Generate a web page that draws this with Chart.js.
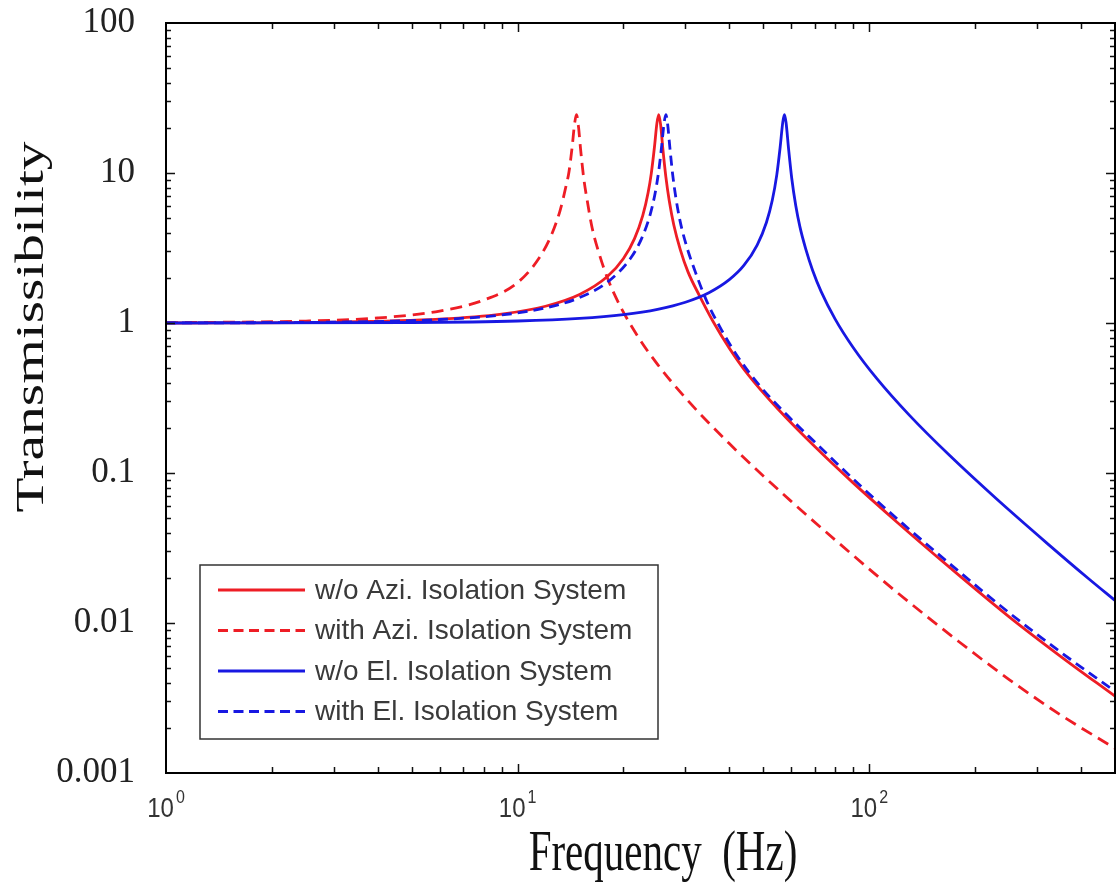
<!DOCTYPE html>
<html>
<head>
<meta charset="utf-8">
<script src="https://cdn.jsdelivr.net/npm/chart.js@4.4.1/dist/chart.umd.min.js"></script>
<style>
  html, body { margin: 0; padding: 0; background: #fff; }
  canvas { display: block; }
</style>
</head>
<body>
<canvas id="chart" width="1117" height="888"></canvas>
<script>
// Data

var seriesNames = [
    "w/o Azi. Isolation System",
    "with Azi. Isolation System",
    "w/o El. Isolation System",
    "with El. Isolation System"
];

var freqAziWithout = [1, 3, 6, 9, 12, 15, 18, 20, 21.5, 22.7, 23.5, 24, 24.5, 24.9, 25.2, 25.5, 25.9, 26.4, 27, 27.8, 29, 30.5, 33, 36, 40, 45, 55, 70, 90, 120, 170, 250, 350, 500];
var valAziWithout = [1.0, 1.014, 1.06, 1.146, 1.293, 1.549, 2.04, 2.69, 3.65, 5.21, 7.38, 9.95, 14.9, 21.5, 24.5, 21.1, 14.3, 9.43, 6.5, 4.52, 3.1, 2.2, 1.5, 1.02, 0.68, 0.46, 0.267, 0.15, 0.0859, 0.047, 0.0233, 0.011, 0.006, 0.00325];

var freqAziWith = [1, 2.5, 4, 6, 8, 10, 11.5, 12.5, 13.2, 13.7, 14.0, 14.3, 14.5, 14.7, 14.9, 15.1, 15.4, 15.8, 16.3, 17, 18, 19.5, 22, 25, 30, 40, 60, 80, 120, 180, 250, 350, 500];
var valAziWith = [1.005, 1.03, 1.08, 1.2, 1.42, 1.86, 2.7, 3.9, 5.6, 8.0, 10.2, 15.1, 20.7, 24.5, 20.3, 14.5, 9.43, 6.4, 4.28, 2.97, 2.0, 1.32, 0.81, 0.53, 0.317, 0.157, 0.0647, 0.0358, 0.016, 0.0075, 0.0042, 0.00244, 0.00146];

var freqElWithout = [1, 5, 10, 15, 20, 25, 30, 35, 40, 44, 48, 51, 53, 54.6, 55.8, 56.8, 57.4, 58, 59, 60.2, 61.8, 63.5, 66, 69, 73, 80, 90, 105, 130, 170, 230, 320, 420, 500];
var valElWithout = [1.0, 1.008, 1.031, 1.073, 1.138, 1.234, 1.376, 1.592, 1.945, 2.42, 3.31, 4.68, 6.58, 9.76, 14.85, 22.0, 24.5, 21.7, 14.3, 9.23, 6.07, 4.39, 3.11, 2.25, 1.62, 1.062, 0.687, 0.427, 0.243, 0.1296, 0.0673, 0.0341, 0.0198, 0.01414];

var freqElWith = [1, 3, 6, 9, 12, 15, 18, 21, 22.5, 23.8, 24.6, 25.2, 25.7, 26.1, 26.4, 26.7, 27.1, 27.6, 28.2, 29, 30.3, 32, 34.5, 38, 42, 48, 58, 72, 95, 125, 175, 250, 350, 500];
var valElWith = [1.001, 1.013, 1.055, 1.131, 1.26, 1.477, 1.87, 2.72, 3.64, 5.24, 7.31, 10.35, 15.35, 21.6, 24.5, 21.3, 14.8, 9.8, 6.79, 4.74, 3.2, 2.2, 1.4, 0.9, 0.61, 0.40, 0.247, 0.151, 0.081, 0.0456, 0.0233, 0.0117, 0.0064, 0.0035];

var xTickValues = [1, 10, 100];
var xTickExps = ["0", "1", "2"];
var yTickLabels = ["0.001", "0.01", "0.1", "1", "10", "100"];

var xTitle = "Frequency  (Hz)";
var yTitle = "Transmissibility";

var RED = '#ee1d25';
var BLUE = '#1818e2';

function toPoints(xs, ys) {
    return xs.map(function (x, i) { return { x: x, y: ys[i] }; });
}

// text with a stretch, the reference picture is squashed a bit
function stretchedText(ctx, text, x, y, sx, sy, rot) {
    ctx.save();
    ctx.translate(x, y);
    if (rot) ctx.rotate(rot);
    ctx.scale(sx, sy);
    ctx.fillText(text, 0, 0);
    ctx.restore();
}

var decorPlugin = {
    id: 'decor',
    afterDraw: function (chart) {
        var ctx = chart.ctx;
        var a = chart.chartArea;
        var xs = chart.scales.x;
        var ys = chart.scales.y;
        ctx.save();

        // inward ticks, all four sides
        ctx.strokeStyle = '#111';
        ctx.lineWidth = 1.5;
        ctx.beginPath();
        for (var e = 0; e <= 2; e++) {
            for (var k = 1; k <= 9; k++) {
                var v = k * Math.pow(10, e);
                if (v <= 1 || v >= 500) continue;
                var px = Math.round(xs.getPixelForValue(v)) + 0.5;
                var len = (k === 1) ? 9 : 6;
                ctx.moveTo(px, a.bottom); ctx.lineTo(px, a.bottom - len);
                ctx.moveTo(px, a.top); ctx.lineTo(px, a.top + len);
            }
        }
        for (var e2 = -3; e2 <= 1; e2++) {
            for (var k2 = 1; k2 <= 9; k2++) {
                var v2 = k2 * Math.pow(10, e2);
                if (v2 <= 0.001) continue;
                var py = Math.round(ys.getPixelForValue(v2)) + 0.5;
                var len2 = (k2 === 1) ? 9 : 5;
                ctx.moveTo(a.left, py); ctx.lineTo(a.left + len2, py);
                ctx.moveTo(a.right, py); ctx.lineTo(a.right - len2, py);
            }
        }
        ctx.stroke();

        // frame
        ctx.lineWidth = 2;
        ctx.strokeStyle = '#000';
        ctx.strokeRect(a.left, a.top, a.right - a.left, a.bottom - a.top);

        // x tick labels 10^n
        ctx.fillStyle = '#333';
        ctx.textBaseline = 'alphabetic';
        for (var i = 0; i < xTickValues.length; i++) {
            var cx = xs.getPixelForValue(xTickValues[i]);
            ctx.font = '24px "Liberation Sans", Arial, sans-serif';
            var wBase = ctx.measureText('10').width;
            ctx.font = '16px "Liberation Sans", Arial, sans-serif';
            var wExp = ctx.measureText(xTickExps[i]).width;
            var left = cx - (wBase + 2 + wExp) / 2;
            ctx.textAlign = 'left';
            ctx.font = '24px "Liberation Sans", Arial, sans-serif';
            stretchedText(ctx, '10', left, 817, 1, 1.17);
            ctx.font = '16px "Liberation Sans", Arial, sans-serif';
            stretchedText(ctx, xTickExps[i], left + wBase + 2, 803, 1, 1.2);
        }

        // axis titles
        ctx.fillStyle = '#111';
        ctx.font = '41px "Liberation Serif", "Times New Roman", serif';
        ctx.textAlign = 'center';
        ctx.textBaseline = 'middle';
        stretchedText(ctx, xTitle, 663, 855, 1, 1.4);
        stretchedText(ctx, yTitle, 32, 327, 1.4, 1, -Math.PI / 2);

        // legend box
        var bx = 200, by = 565, bw = 458, bh = 174;
        ctx.fillStyle = '#fff';
        ctx.fillRect(bx, by, bw, bh);
        ctx.strokeStyle = '#333';
        ctx.lineWidth = 1.5;
        ctx.strokeRect(bx, by, bw, bh);
        var rows = [590, 630.5, 671, 711.5];
        var order = [0, 1, 2, 3];
        ctx.font = '28px "Liberation Sans", Arial, sans-serif';
        ctx.textAlign = 'left';
        ctx.textBaseline = 'middle';
        order.forEach(function (di, r) {
            var ds = chart.data.datasets[di];
            ctx.save();
            ctx.strokeStyle = ds.borderColor;
            ctx.lineWidth = 3;
            ctx.setLineDash(ds.borderDash && ds.borderDash.length ? [10, 5.5] : []);
            ctx.beginPath();
            ctx.moveTo(218, rows[r]);
            ctx.lineTo(305, rows[r]);
            ctx.stroke();
            ctx.restore();
            ctx.fillStyle = '#3a3a3a';
            ctx.fillText(ds.label, 315, rows[r] + 1);
        });

        ctx.restore();
    }
};

var chart = document.getElementById('chart').getContext('2d');

var lineChart = new Chart(chart, {
    type: 'scatter',
    data: {
        datasets: [{
            label: seriesNames[0],
            data: toPoints(freqAziWithout, valAziWithout),
            borderColor: RED,
            borderWidth: 2.8,
            borderDash: [],
            order: 4
        }, {
            label: seriesNames[1],
            data: toPoints(freqAziWith, valAziWith),
            borderColor: RED,
            borderWidth: 2.8,
            borderDash: [12, 7],
            order: 3
        }, {
            label: seriesNames[2],
            data: toPoints(freqElWithout, valElWithout),
            borderColor: BLUE,
            borderWidth: 2.8,
            borderDash: [],
            order: 1
        }, {
            label: seriesNames[3],
            data: toPoints(freqElWith, valElWith),
            borderColor: BLUE,
            borderWidth: 2.8,
            borderDash: [10, 6],
            order: 2
        }]
    },
    options: {
        responsive: false,
        animation: false,
        showLine: true,
        elements: {
            point: { radius: 0, hoverRadius: 0 },
            line: { cubicInterpolationMode: 'monotone', fill: false }
        },
        layout: { padding: { left: 0, top: 23, right: 2, bottom: 0 } },
        plugins: {
            legend: { display: false },
            tooltip: { enabled: false }
        },
        scales: {
            x: {
                type: 'logarithmic',
                min: 1,
                max: 500,
                grid: { display: false, drawTicks: false },
                border: { display: false },
                ticks: { display: false },
                afterFit: function (s) {
                    s.height = 115;
                    s.paddingLeft = 0; s.paddingRight = 0;
                }
            },
            y: {
                type: 'logarithmic',
                min: 0.001,
                max: 100,
                grid: { display: false, drawTicks: false },
                border: { display: false },
                ticks: {
                    autoSkip: false,
                    padding: 31,
                    color: '#222',
                    font: { family: '"Liberation Serif", "Times New Roman", serif', size: 35 },
                    callback: function (value) {
                        var lg = Math.log10(value);
                        var r = Math.round(lg);
                        if (Math.abs(lg - r) < 1e-6) return yTickLabels[r + 3];
                        return '';
                    }
                },
                afterFit: function (s) {
                    s.width = 166;
                    s.paddingTop = 0; s.paddingBottom = 0;
                }
            }
        }
    },
    plugins: [decorPlugin]
});
</script>
</body>
</html>
